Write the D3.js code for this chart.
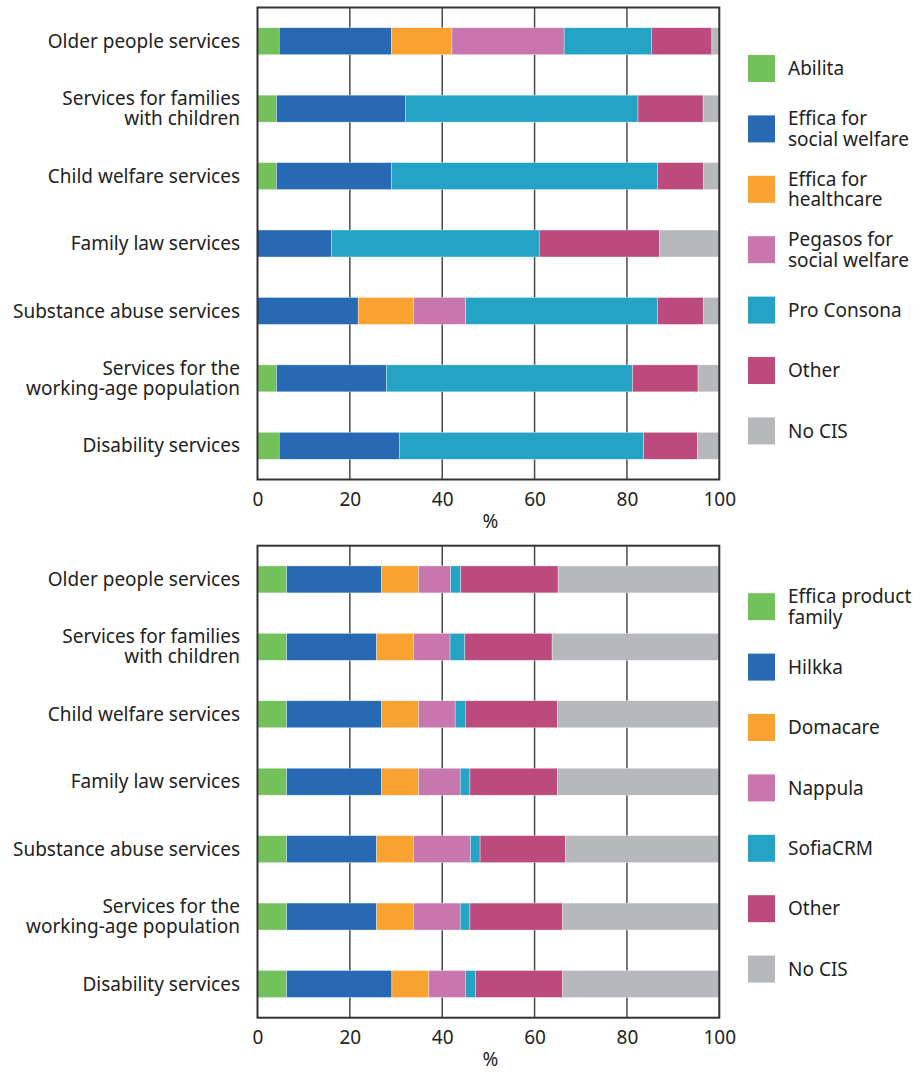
<!DOCTYPE html>
<html>
<head>
<meta charset="utf-8">
<script src="https://cdn.jsdelivr.net/npm/d3@7"></script>
<style>
  body { margin: 0; background: #fff; }
  svg { display: block; font-family: "Noto Sans", "Open Sans", sans-serif; }
</style>
</head>
<body>
<svg width="920" height="1072"></svg>
<script>
// categories (same in both panels), lines split for wrapping
const categories = [
  ["Older people services"],
  ["Services for families", "with children"],
  ["Child welfare services"],
  ["Family law services"],
  ["Substance abuse services"],
  ["Services for the", "working-age population"],
  ["Disability services"]
];
const xTicks = [0, 20, 40, 60, 80, 100];

// top panel series (%)
const topKeys = ["Abilita", "Effica for social welfare", "Effica for healthcare",
  "Pegasos for social welfare", "Pro Consona", "Other", "No CIS"];
const topLegend = [["Abilita"], ["Effica for", "social welfare"], ["Effica for", "healthcare"],
  ["Pegasos for", "social welfare"], ["Pro Consona"], ["Other"], ["No CIS"]];
const topAbilita = [4.7, 4.1, 4.1, 0, 0, 4.1, 4.7];
const topEfficaSocial = [24.3, 27.9, 24.9, 16.0, 21.8, 23.8, 26.0];
const topEfficaHealth = [13.1, 0, 0, 0, 12.0, 0, 0];
const topPegasos = [24.3, 0, 0, 0, 11.3, 0, 0];
const topProConsona = [18.9, 50.4, 57.6, 45.0, 41.5, 53.3, 52.9];
const topOther = [13.1, 14.1, 10.0, 26.1, 10.0, 14.2, 11.7];
const topNoCis = [1.6, 3.5, 3.4, 12.9, 3.4, 4.6, 4.7];

// bottom panel series (%)
const botKeys = ["Effica product family", "Hilkka", "Domacare", "Nappula", "SofiaCRM", "Other", "No CIS"];
const botLegend = [["Effica product", "family"], ["Hilkka"], ["Domacare"], ["Nappula"],
  ["SofiaCRM"], ["Other"], ["No CIS"]];
const botEffica = [6.3, 6.3, 6.3, 6.3, 6.3, 6.3, 6.3];
const botHilkka = [20.6, 19.5, 20.6, 20.6, 19.5, 19.5, 22.8];
const botDomacare = [8.0, 8.0, 8.0, 8.0, 8.0, 8.0, 8.0];
const botNappula = [6.9, 7.9, 7.9, 9.0, 12.3, 10.1, 7.9];
const botSofia = [2.2, 3.2, 2.2, 2.1, 2.1, 2.1, 2.2];
const botOther = [21.1, 18.9, 20.0, 19.0, 18.5, 20.1, 18.9];
const botNoCis = [34.9, 36.2, 35.0, 35.0, 33.3, 33.9, 33.9];

const colors = ["#73c15b", "#2769b2", "#f8a231", "#c776ae", "#25a3c5", "#bd4a7c", "#b7b8bb"];

const fontSize = 19;
const svg = d3.select("svg");

function buildRows(keys, series) {
  return categories.map((c, i) => {
    const row = { cat: c.join(" ") };
    keys.forEach((k, j) => { row[k] = series[j][i]; });
    return row;
  });
}

function DrawPanel(top, keys, series, legendLines) {
  const left = 257.5, right = 719.3, height = 472;
  const bottom = top + height;
  const rows = buildRows(keys, series);
  const g = svg.append("g");

  const x = d3.scaleLinear().domain([0, 100]).range([left, right]);
  const y = d3.scaleBand()
    .domain(rows.map(d => d.cat))
    .range([top, bottom])
    .paddingInner(0.6)
    .paddingOuter(0.3);
  const color = d3.scaleOrdinal().domain(keys).range(colors);

  // gridlines
  g.append("g")
    .selectAll("line")
    .data(xTicks.slice(1, -1))
    .join("line")
    .attr("x1", d => x(d)).attr("x2", d => x(d))
    .attr("y1", top).attr("y2", bottom)
    .attr("stroke", "#4a4a4a")
    .attr("stroke-width", 1.5);

  // bars
  const stacked = d3.stack().keys(keys)(rows);
  g.append("g")
    .selectAll("g")
    .data(stacked)
    .join("g")
    .attr("fill", d => color(d.key))
    .selectAll("rect")
    .data(d => d)
    .join("rect")
    .attr("x", d => x(d[0]))
    .attr("y", d => y(d.data.cat))
    .attr("width", d => x(d[1]) - x(d[0]))
    .attr("height", y.bandwidth())
    .attr("stroke", "#ffffff")
    .attr("stroke-width", 0.5)
    .attr("stroke-opacity", 0.7);

  // frame
  g.append("rect")
    .attr("x", left).attr("y", top)
    .attr("width", right - left).attr("height", height)
    .attr("fill", "none")
    .attr("stroke", "#333")
    .attr("stroke-width", 2);

  // x axis labels
  const xAxis = g.append("g")
    .attr("transform", `translate(0,${bottom})`)
    .call(d3.axisBottom(x).tickValues(xTicks).tickSize(0).tickPadding(13));
  xAxis.select(".domain").remove();
  xAxis.selectAll("text")
    .attr("font-size", fontSize)
    .attr("fill", "#222")
    .attr("font-family", "Noto Sans, sans-serif");

  g.append("text")
    .attr("x", (left + right) / 2 + 2)
    .attr("y", bottom + 48)
    .attr("text-anchor", "middle")
    .attr("font-size", fontSize)
    .attr("fill", "#222")
    .text("%");

  // category labels
  const lineH = 20;
  categories.forEach((lines, i) => {
    const cy = y(rows[i].cat) + y.bandwidth() / 2;
    const t = g.append("text")
      .attr("text-anchor", "end")
      .attr("font-size", fontSize)
      .attr("fill", "#222");
    lines.forEach((ln, k) => {
      t.append("tspan")
        .attr("x", 240)
        .attr("y", cy + (k - (lines.length - 1) / 2) * lineH)
        .attr("dy", "0.35em")
        .text(ln);
    });
  });

  // legend
  const legTop = top + 47.5, legStep = 60.4, sq = 27;
  keys.forEach((k, i) => {
    const yy = legTop + i * legStep;
    g.append("rect")
      .attr("x", 748).attr("y", yy)
      .attr("width", sq).attr("height", sq)
      .attr("fill", color(k));
    const lines = legendLines[i];
    const t = g.append("text")
      .attr("font-size", fontSize)
      .attr("fill", "#222");
    lines.forEach((ln, j) => {
      t.append("tspan")
        .attr("x", 788)
        .attr("y", yy + sq / 2 + (j - (lines.length - 1) / 2) * 20.5)
        .attr("dy", "0.35em")
        .text(ln);
    });
  });
}

DrawPanel(7.5, topKeys,
  [topAbilita, topEfficaSocial, topEfficaHealth, topPegasos, topProConsona, topOther, topNoCis],
  topLegend);
DrawPanel(545.7, botKeys,
  [botEffica, botHilkka, botDomacare, botNappula, botSofia, botOther, botNoCis],
  botLegend);
</script>
</body>
</html>
